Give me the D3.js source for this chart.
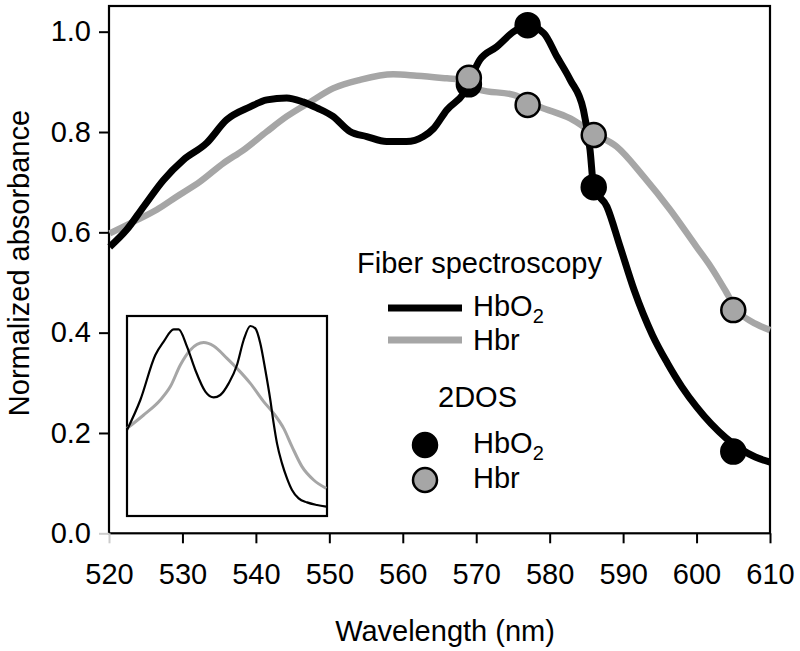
<!DOCTYPE html>
<html>
<head>
<meta charset="utf-8">
<script src="https://cdn.jsdelivr.net/npm/d3@7"></script>
<style>
  body { margin: 0; background: #fff; }
  svg text { font-family: "Liberation Sans", Arial, Helvetica, sans-serif; fill: #000; }
</style>
</head>
<body>
<svg id="chart" width="800" height="651"></svg>
<script>
// ---- Data ----
const xTicks = [520, 530, 540, 550, 560, 570, 580, 590, 600, 610];
const yTicks = [0.0, 0.2, 0.4, 0.6, 0.8, 1.0];

// Fiber spectroscopy, HbO2 (black)
const fiberHbO2Wl = [520.1, 522.4, 524.7, 527.4, 530.1, 533.3, 536.0, 539.2, 541.5, 544.2, 546.4, 548.3, 550.5, 552.8, 555.1, 557.8, 560.5, 562.8, 564.2, 566.0, 568.3, 570.5, 572.8, 575.1, 576.9, 579.2, 581.0, 582.8, 584.6, 585.5, 586.0, 587.8, 589.6, 591.5, 594, 596, 598, 600, 602, 604, 606, 608, 610];
const fiberHbO2Val = [0.571, 0.605, 0.651, 0.704, 0.744, 0.778, 0.824, 0.850, 0.864, 0.868, 0.860, 0.848, 0.831, 0.801, 0.791, 0.781, 0.781, 0.791, 0.807, 0.844, 0.877, 0.944, 0.970, 1.000, 1.013, 0.997, 0.950, 0.904, 0.844, 0.764, 0.691, 0.651, 0.571, 0.485, 0.395, 0.34, 0.292, 0.252, 0.218, 0.19, 0.168, 0.152, 0.142];

// Fiber spectroscopy, Hbr (gray)
const fiberHbrWl = [520.1, 523.3, 526.5, 529.2, 532.4, 535.6, 538.3, 541.5, 544.2, 547.4, 550.5, 554.2, 558.7, 561.9, 566.0, 568.3, 570.5, 575.1, 578.7, 582.8, 586.0, 589.1, 592.8, 596.4, 600.0, 602, 604, 605, 606, 608, 610];
const fiberHbrVal = [0.598, 0.621, 0.645, 0.671, 0.701, 0.738, 0.764, 0.801, 0.831, 0.860, 0.887, 0.904, 0.915, 0.912, 0.907, 0.904, 0.884, 0.874, 0.850, 0.827, 0.797, 0.771, 0.711, 0.645, 0.571, 0.530, 0.482, 0.457, 0.438, 0.418, 0.405];

// 2DOS points
const dosHbO2Wl = [569, 577, 586, 605];
const dosHbO2Val = [0.895, 1.013, 0.690, 0.163];
const dosHbrWl = [569, 577, 586, 605];
const dosHbrVal = [0.908, 0.854, 0.794, 0.445];

// Inset reference spectra (normalized)
const insetHbO2Wl = [520, 526, 532.75, 536.5, 541, 543.25, 547, 550.75, 555.25, 559, 562, 565.75, 569.5, 572.5, 575.5, 577.75, 580, 582.25, 584.5, 586, 587.5, 589.75, 592, 594.25, 597.25, 601, 605.5, 609.7];
const insetHbO2Val = [0.43, 0.58, 0.805, 0.872, 0.933, 0.933, 0.847, 0.73, 0.622, 0.593, 0.605, 0.663, 0.755, 0.88, 0.95, 0.938, 0.863, 0.73, 0.58, 0.463, 0.363, 0.263, 0.188, 0.13, 0.088, 0.068, 0.055, 0.047];
const insetHbrWl = [520, 527.5, 535, 539.5, 544, 548.5, 554.5, 559, 565, 569.5, 575.5, 581.5, 586, 590.5, 594.25, 598.75, 604, 609.7];
const insetHbrVal = [0.438, 0.505, 0.58, 0.647, 0.755, 0.83, 0.867, 0.85, 0.788, 0.738, 0.663, 0.572, 0.513, 0.438, 0.347, 0.247, 0.18, 0.138];

// ---- Drawing ----
const svg = d3.select("#chart");
const GRAY = "#a6a6a6";
const FS = 29;
const L = 109, R = 770, T = 6, B = 533.3;

const x = d3.scaleLinear().domain([520, 610]).range([L, R]);
const y = d3.scaleLinear().domain([0, 1.0512]).range([B, T]);

const zip = (a, b) => a.map((d, i) => [d, b[i]]);

// Frame
svg.append("rect").attr("x", L).attr("y", T).attr("width", R - L).attr("height", B - T)
  .attr("fill", "none").attr("stroke", "#000").attr("stroke-width", 2.2);

// Axes
const xAxis = svg.append("g").attr("transform", `translate(0,${B})`)
  .call(d3.axisBottom(x).tickValues(xTicks).tickSize(10).tickPadding(20).tickFormat(d3.format("d")));
const yAxis = svg.append("g").attr("transform", `translate(${L},0)`)
  .call(d3.axisLeft(y).tickValues(yTicks).tickSize(10).tickPadding(8).tickFormat(d3.format(".1f")));
[xAxis, yAxis].forEach(g => {
  g.select(".domain").remove();
  g.selectAll(".tick line").attr("stroke", "#000").attr("stroke-width", 2);
  g.selectAll(".tick text").attr("font-size", FS).attr("font-family", "Liberation Sans, Arial, sans-serif").attr("fill", "#000");
});
xAxis.selectAll(".tick").filter(d => d === 520).select("line").attr("stroke", "#ccc");
yAxis.selectAll(".tick").filter(d => d === 0).select("line").attr("stroke", "#ccc");

// Axis titles
svg.append("text").attr("x", 445).attr("y", 641).attr("text-anchor", "middle")
  .attr("font-size", FS).text("Wavelength (nm)");
svg.append("text").attr("transform", `translate(29,263) rotate(-90)`).attr("text-anchor", "middle")
  .attr("font-size", FS).text("Normalized absorbance");

// Main curves
const line = d3.line().x(d => x(d[0])).y(d => y(d[1])).curve(d3.curveMonotoneX);
svg.append("path").datum(zip(fiberHbrWl, fiberHbrVal)).attr("d", line)
  .attr("fill", "none").attr("stroke", GRAY).attr("stroke-width", 6.5).attr("stroke-linejoin", "round");
svg.append("path").datum(zip(fiberHbO2Wl, fiberHbO2Val)).attr("d", line)
  .attr("fill", "none").attr("stroke", "#000").attr("stroke-width", 7).attr("stroke-linejoin", "round");

// 2DOS points
svg.append("g").selectAll("circle").data(zip(dosHbO2Wl, dosHbO2Val)).join("circle")
  .attr("cx", d => x(d[0])).attr("cy", d => y(d[1])).attr("r", 12)
  .attr("fill", "#000").attr("stroke", "#000").attr("stroke-width", 2.5);
svg.append("g").selectAll("circle").data(zip(dosHbrWl, dosHbrVal)).join("circle")
  .attr("cx", d => x(d[0])).attr("cy", d => y(d[1])).attr("r", 12)
  .attr("fill", GRAY).attr("stroke", "#000").attr("stroke-width", 2.5);

// Inset
const ix = d3.scaleLinear().domain([520, 610]).range([127, 327]);
const iy = d3.scaleLinear().domain([0, 1]).range([516, 316]);
svg.append("rect").attr("x", 127).attr("y", 316).attr("width", 200).attr("height", 200)
  .attr("fill", "#fff").attr("stroke", "#000").attr("stroke-width", 2.2);
const iline = d3.line().x(d => ix(d[0])).y(d => iy(d[1])).curve(d3.curveMonotoneX);
svg.append("path").datum(zip(insetHbrWl, insetHbrVal)).attr("d", iline)
  .attr("fill", "none").attr("stroke", GRAY).attr("stroke-width", 3);
svg.append("path").datum(zip(insetHbO2Wl, insetHbO2Val)).attr("d", iline)
  .attr("fill", "none").attr("stroke", "#000").attr("stroke-width", 2.2);

// Legend
const lg = svg.append("g");
lg.append("text").attr("x", 357).attr("y", 273).attr("font-size", FS).text("Fiber spectroscopy");
lg.append("line").attr("x1", 388).attr("x2", 462).attr("y1", 308).attr("y2", 308).attr("stroke", "#000").attr("stroke-width", 7);
lg.append("line").attr("x1", 388).attr("x2", 462).attr("y1", 340).attr("y2", 340).attr("stroke", GRAY).attr("stroke-width", 7);
function hbo2(xp, yp) {
  const t = lg.append("text").attr("x", xp).attr("y", yp).attr("font-size", FS);
  t.append("tspan").text("HbO");
  t.append("tspan").attr("font-size", 20).attr("dy", 7).text("2");
}
hbo2(473, 316);
lg.append("text").attr("x", 473).attr("y", 350).attr("font-size", FS).text("Hbr");
lg.append("text").attr("x", 438).attr("y", 407).attr("font-size", FS).text("2DOS");
lg.append("circle").attr("cx", 425).attr("cy", 445).attr("r", 12).attr("fill", "#000").attr("stroke", "#000").attr("stroke-width", 2.5);
lg.append("circle").attr("cx", 425).attr("cy", 480).attr("r", 12).attr("fill", GRAY).attr("stroke", "#000").attr("stroke-width", 2.5);
hbo2(473, 453);
lg.append("text").attr("x", 473).attr("y", 488).attr("font-size", FS).text("Hbr");
</script>
</body>
</html>
